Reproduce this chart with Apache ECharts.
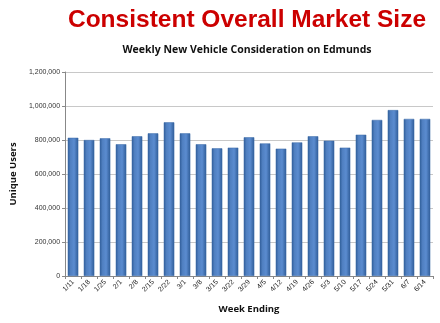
<!DOCTYPE html>
<html><head><meta charset="utf-8">
<script src="https://cdn.jsdelivr.net/npm/echarts@6/dist/echarts.min.js"></script>
<style>html,body{margin:0;padding:0;background:#fff}#c{width:440px;height:323px}</style>
</head><body><div id="c"></div>
<script>
var categories = ['1/11','1/18','1/25','2/1','2/8','2/15','2/22','3/1','3/8','3/15','3/22','3/29','4/5','4/12','4/19','4/26','5/3','5/10','5/17','5/24','5/31','6/7','6/14'];
var users = [813000,800000,810000,775000,822000,839000,904000,839000,775000,751000,755000,816000,780000,749000,786000,822000,796000,755000,831000,918000,976000,924000,924000];
var yTicks = [0,200000,400000,600000,800000,1000000,1200000];

var chart = echarts.init(document.getElementById('c'));
chart.setOption({
  animation:false,
  title:[
    {text:'Consistent Overall Market Size', left:242, textAlign:'center', top:3,
     textStyle:{color:'#cc0000', fontFamily:'Liberation Sans, Arial', fontWeight:'bold', fontSize:24.5}},
    {text:'Weekly New Vehicle Consideration on Edmunds', left:242, textAlign:'center', top:40,
     textStyle:{color:'#111', fontFamily:'Open Sans, Liberation Sans', fontWeight:'bold', fontSize:10.5}}
  ],
  grid:{left:53, right:7, top:72, bottom:47},
  xAxis:{type:'category', data:categories,
    name:'Week Ending', nameLocation:'middle', nameGap:28,
    nameTextStyle:{fontFamily:'Open Sans, Liberation Sans', fontWeight:'bold', fontSize:9.5, color:'#111'},
    axisLine:{lineStyle:{color:'#888'}},
    axisTick:{show:true, length:3, lineStyle:{color:'#888'}},
    axisLabel:{rotate:45, fontSize:7, color:'#222', fontFamily:'Liberation Sans', interval:0, margin:5}},
  yAxis:{type:'value', min:0, max:1200000, interval:200000,
    name:'Unique Users', nameLocation:'middle', nameGap:40,
    nameTextStyle:{fontFamily:'Open Sans, Liberation Sans', fontWeight:'bold', fontSize:9.5, color:'#111'},
    axisLine:{show:true, lineStyle:{color:'#888'}},
    axisTick:{show:true, length:3, lineStyle:{color:'#888'}},
    splitLine:{lineStyle:{color:'#c8c8c8', width:1}},
    axisLabel:{fontSize:7, color:'#333', fontFamily:'Liberation Sans', margin:5,
      formatter:function(v){return yTicks.indexOf(v)>=0 ? v.toLocaleString('en-US') : '';}}},
  series:[{type:'bar', data:users, barWidth:'66%',
    itemStyle:{
      color:new echarts.graphic.LinearGradient(0,0,1,0,[
        {offset:0,color:'#2f5c97'},{offset:0.25,color:'#4f7fc0'},{offset:0.6,color:'#5b8cd0'},{offset:1,color:'#2f5c97'}]),
      borderColor:'#3b6aa8', borderWidth:0.5}
  }]
});
</script></body></html>
